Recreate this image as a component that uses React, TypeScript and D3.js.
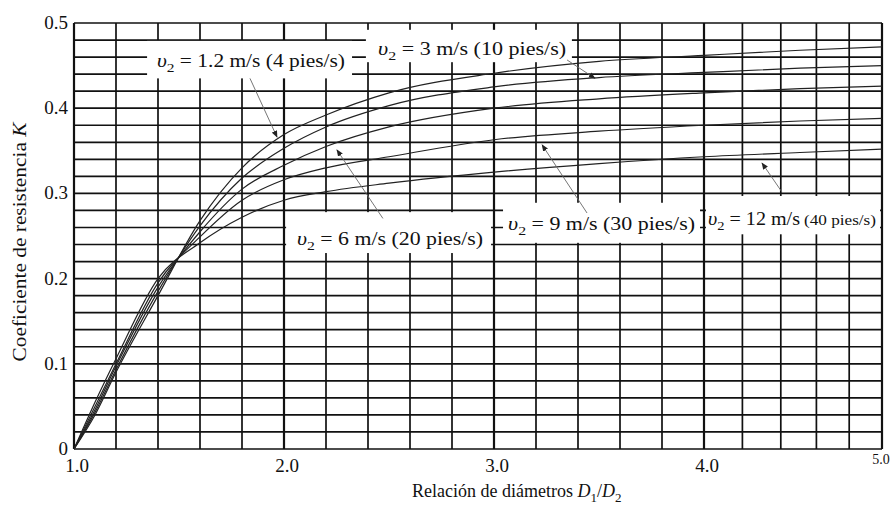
import React, { useEffect, useRef } from "react";
import * as d3 from "d3";

// relacion de diametros D1/D2
const ratios = [1.0, 1.1, 1.2, 1.4, 1.6, 1.8, 2.0, 2.2, 2.5, 3.0, 3.5, 4.0, 4.5, 5.0];

const kV1_2 = [0, 0.04, 0.09, 0.18, 0.268, 0.33, 0.369, 0.392, 0.418, 0.441, 0.455, 0.462, 0.468, 0.472];
const kV3 = [0, 0.043, 0.093, 0.185, 0.262, 0.318, 0.353, 0.378, 0.403, 0.425, 0.436, 0.442, 0.447, 0.45];
const kV6 = [0, 0.046, 0.097, 0.19, 0.255, 0.305, 0.333, 0.355, 0.378, 0.4, 0.411, 0.418, 0.423, 0.426];
const kV9 = [0, 0.05, 0.1, 0.195, 0.249, 0.292, 0.316, 0.33, 0.343, 0.363, 0.373, 0.38, 0.385, 0.388];
const kV12 = [0, 0.055, 0.106, 0.2, 0.242, 0.272, 0.292, 0.302, 0.312, 0.325, 0.335, 0.343, 0.348, 0.352];

const speedTexts = ["1.2 m/s (4 pies/s)", "3 m/s (10 pies/s)", "6 m/s (20 pies/s)", "9 m/s (30 pies/s)", "12 m/s"];
const xTickLabels = ["1.0", "2.0", "3.0", "4.0"];
const yTickLabels = ["0", "0.1", "0.2", "0.3", "0.4", "0.5"];

// cajas de etiquetas y flechas, en unidades de datos
const notes = [
  { box: [1.348, 2.324, 0.479, 0.435], tx: 1.395, ty: 0.448, len: 188, from: [1.838, 0.435], to: [1.967, 0.366] },
  { box: [2.39, 3.371, 0.492, 0.454], tx: 2.448, ty: 0.4625, len: 188, from: [3.348, 0.4566], to: [3.481, 0.435] },
  { box: [2.01, 2.986, 0.278, 0.23], tx: 2.062, ty: 0.2394, len: 186, from: [2.471, 0.2706], to: [2.252, 0.351] },
  { box: [3.043, 3.981, 0.289, 0.242], tx: 3.067, ty: 0.257, len: 187, from: [3.443, 0.277], to: [3.229, 0.357] },
  { box: [4.01, 4.988, 0.297, 0.252], tx: 4.021, ty: 0.263, len: 92, from: [4.406, 0.3016], to: [4.302, 0.3357] },
];

export default function App() {
  const ref = useRef<SVGSVGElement>(null);

  useEffect(() => {
    document.body.style.margin = "0";
    const svg = d3.select(ref.current);
    svg.selectAll("*").remove();

    const serif = "'Liberation Serif', 'Times New Roman', serif";
    // the scan is squeezed past 4.0
    const xScale = d3.scaleLinear().domain([1, 4, 4.5, 5]).range([74, 704, 800, 882]);
    const yScale = d3.scaleLinear().domain([0, 0.5]).range([449, 23]);

    svg.append("defs")
      .append("marker")
      .attr("id", "head")
      .attr("viewBox", "0 0 10 10")
      .attr("refX", 9)
      .attr("refY", 5)
      .attr("markerWidth", 7)
      .attr("markerHeight", 7)
      .attr("markerUnits", "userSpaceOnUse")
      .attr("orient", "auto")
      .append("path")
      .attr("d", "M0,1 L10,5 L0,9 Z")
      .attr("fill", "#222");

    const grid = svg.append("g").attr("stroke", "#111").attr("stroke-width", 1.7);
    grid.selectAll("line.h")
      .data(d3.range(0, 0.5001, 0.02))
      .enter()
      .append("line")
      .attr("class", "h")
      .attr("x1", xScale(1))
      .attr("x2", xScale(5))
      .attr("y1", (d) => yScale(d))
      .attr("y2", (d) => yScale(d));
    grid.selectAll("line.v")
      .data(d3.range(1, 5.0001, 0.2))
      .enter()
      .append("line")
      .attr("class", "v")
      .attr("x1", (d) => xScale(d))
      .attr("x2", (d) => xScale(d))
      .attr("y1", yScale(0))
      .attr("y2", yScale(0.5))
      .attr("stroke-width", (d) => (Math.abs(d - Math.round(d)) < 0.01 ? 2.2 : 1.7));

    const line = d3.line<number>()
      .x((d, i) => xScale(ratios[i]))
      .y((d) => yScale(d))
      .curve(d3.curveMonotoneX);

    svg.append("g")
      .selectAll("path")
      .data([kV1_2, kV3, kV6, kV9, kV12])
      .enter()
      .append("path")
      .attr("d", (d) => line(d))
      .attr("fill", "none")
      .attr("stroke", "#222")
      .attr("stroke-width", 1.2);

    const ann = svg.append("g");
    notes.forEach((n, i) => {
      ann.append("rect")
        .attr("x", xScale(n.box[0]))
        .attr("y", yScale(n.box[2]))
        .attr("width", xScale(n.box[1]) - xScale(n.box[0]))
        .attr("height", yScale(n.box[3]) - yScale(n.box[2]))
        .attr("fill", "#fff");
      ann.append("line")
        .attr("x1", xScale(n.from[0]))
        .attr("y1", yScale(n.from[1]))
        .attr("x2", xScale(n.to[0]))
        .attr("y2", yScale(n.to[1]))
        .attr("stroke", "#666")
        .attr("stroke-width", 0.9)
        .attr("marker-end", "url(#head)");
      const t = ann.append("text")
        .attr("x", xScale(n.tx))
        .attr("y", yScale(n.ty))
        .attr("font-family", serif)
        .attr("font-size", 18)
        .attr("fill", "#111")
        .attr("textLength", n.len)
        .attr("lengthAdjust", "spacingAndGlyphs");
      t.append("tspan").attr("font-style", "italic").text("υ");
      t.append("tspan").attr("dy", 5).attr("font-size", 13).text("2");
      t.append("tspan").attr("dy", -5).text(" = " + speedTexts[i]);
      if (i === 4) {
        ann.append("text")
          .attr("x", xScale(n.tx) + n.len + 4)
          .attr("y", yScale(n.ty))
          .attr("font-family", serif)
          .attr("font-size", 15)
          .attr("fill", "#111")
          .attr("textLength", 72)
          .attr("lengthAdjust", "spacingAndGlyphs")
          .text("(40 pies/s)");
      }
    });

    // ticks
    svg.append("g")
      .selectAll("text")
      .data(yTickLabels)
      .enter()
      .append("text")
      .attr("x", xScale(1) - 6)
      .attr("y", (d) => yScale(+d) + 6)
      .attr("text-anchor", "end")
      .attr("font-family", serif)
      .attr("font-size", 19)
      .attr("fill", "#111")
      .text((d) => d);
    svg.append("g")
      .selectAll("text")
      .data(xTickLabels)
      .enter()
      .append("text")
      .attr("x", (d) => xScale(+d) + 3)
      .attr("y", yScale(0) + 23)
      .attr("text-anchor", "middle")
      .attr("font-family", serif)
      .attr("font-size", 19)
      .attr("fill", "#111")
      .text((d) => d);
    svg.append("text")
      .attr("x", xScale(5) - 1)
      .attr("y", yScale(0) + 15)
      .attr("text-anchor", "middle")
      .attr("font-family", serif)
      .attr("font-size", 14)
      .attr("fill", "#111")
      .text("5.0");

    // titulos
    const xt = svg.append("text")
      .attr("x", 412)
      .attr("y", 497)
      .attr("font-family", serif)
      .attr("font-size", 18)
      .attr("fill", "#111");
    xt.append("tspan").text("Relación de diámetros ");
    xt.append("tspan").attr("font-style", "italic").text("D");
    xt.append("tspan").attr("dy", 5).attr("font-size", 13).text("1");
    xt.append("tspan").attr("dy", -5).text("/");
    xt.append("tspan").attr("font-style", "italic").text("D");
    xt.append("tspan").attr("dy", 5).attr("font-size", 13).text("2");

    const yt = svg.append("text")
      .attr("transform", "translate(26,242) rotate(-90)")
      .attr("text-anchor", "middle")
      .attr("font-family", serif)
      .attr("font-size", 18)
      .attr("fill", "#111")
      .attr("textLength", 239)
      .attr("lengthAdjust", "spacingAndGlyphs");
    yt.append("tspan").text("Coeficiente de resistencia ");
    yt.append("tspan").attr("font-style", "italic").text("K");
  }, []);

  return <svg ref={ref} width={890} height={515} style={{ display: "block", background: "#fff" }} />;
}
